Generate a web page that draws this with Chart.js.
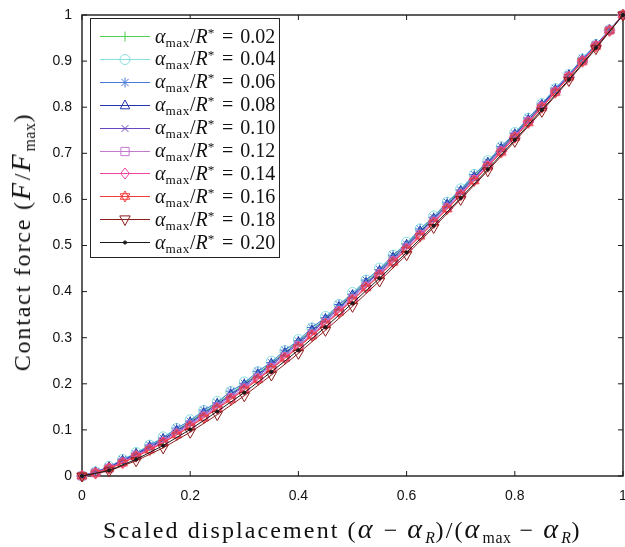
<!DOCTYPE html>
<html>
<head>
<meta charset="utf-8">
<script src="https://cdn.jsdelivr.net/npm/chart.js@4.4.0/dist/chart.umd.min.js"></script>
<style>
  body { margin: 0; background: #fff; }
  #wrap { position: relative; width: 625px; height: 547px; overflow: hidden; }
  #c { position: absolute; left: 0; top: 0; }
  .serif { font-family: "Liberation Serif", "Times New Roman", serif; color: #111; }
  .serif sub, .serif sup { font-size: 66%; line-height: 0; letter-spacing: 0.6px; }
  .serif sub { vertical-align: -0.3em; }
  .serif sup { vertical-align: 0.45em; }
  .m { font-size: 118%; margin-right: 1px; }
  .op { margin: 0 8px; }
  #legend { position: absolute; left: 90px; top: 18px; width: 190px; height: 240px;
            border: 1.5px solid #222; background: #fff; box-sizing: border-box; }
  .row { position: absolute; left: 0; height: 22px; display: flex; align-items: center;
         white-space: nowrap; font-size: 20px; }
  .row canvas { margin-left: 9px; margin-right: 5px; }
  .eq { margin: 0 7px; }
  #xtitle { position: absolute; left: 103px; top: 513px; font-size: 24px; white-space: nowrap; letter-spacing: 2.1px; }
  #ytitle { position: absolute; left: 21px; top: 242px; font-size: 24px; white-space: nowrap; letter-spacing: 1.8px;
            transform: translate(-50%, -50%) rotate(-90deg); }
</style>
</head>
<body>
<div id="wrap">
  <canvas id="c" width="630" height="547"></canvas>
  <div id="legend" class="serif"></div>
  <div id="xtitle" class="serif">Scaled displacement (<i class="m">α</i><span class="op">−</span><i class="m">α</i><sub><i>R</i></sub>)/(<i class="m">α</i><sub>max</sub><span class="op">−</span><i class="m">α</i><sub><i>R</i></sub>)</div>
  <div id="ytitle" class="serif">Contact force (<i class="m">F</i>/<i class="m">F</i><sub>max</sub>)</div>
</div>
<script>
// displacement samples
const xFine = [0, 0.025, 0.05, 0.075, 0.1, 0.125, 0.15, 0.175, 0.2, 0.225, 0.25, 0.275, 0.3, 0.325,
  0.35, 0.375, 0.4, 0.425, 0.45, 0.475, 0.5, 0.525, 0.55, 0.575, 0.6, 0.625, 0.65, 0.675, 0.7,
  0.725, 0.75, 0.775, 0.8, 0.825, 0.85, 0.875, 0.9, 0.925, 0.95, 0.975, 1];
const xCoarse = [0, 0.05, 0.1, 0.15, 0.2, 0.25, 0.3, 0.35, 0.4, 0.45, 0.5, 0.55, 0.6, 0.65, 0.7,
  0.75, 0.8, 0.85, 0.9, 0.95, 1];

const ratios = ['0.02', '0.04', '0.06', '0.08', '0.10', '0.12', '0.14', '0.16', '0.18', '0.20'];

// contact force per alpha_max/R*
const force002 = [0, .008, .020, .034, .049, .064, .081, .099, .118, .138, .158, .178, .200, .222, .245,
  .268, .292, .317, .342, .368, .394, .421, .447, .475, .503, .532, .560, .590, .620, .650, .681, .711,
  .742, .773, .805, .837, .869, .902, .935, .967, 1];
const force004 = [0, .009, .021, .036, .051, .067, .085, .103, .122, .142, .162, .183, .204, .226, .249,
  .272, .296, .321, .346, .372, .398, .425, .451, .479, .507, .536, .564, .594, .623, .654, .684, .714,
  .745, .776, .808, .840, .871, .904, .936, .968, 1];
const force006 = [0, .009, .019, .036, .048, .067, .082, .104, .119, .143, .159, .184, .201, .227, .246,
  .273, .293, .322, .343, .372, .394, .425, .448, .479, .503, .536, .561, .594, .620, .654, .681, .715,
  .743, .777, .807, .841, .871, .906, .936, .968, 1];
const force008 = [0, .008, .019, .033, .048, .063, .080, .098, .116, .136, .156, .176, .198, .220, .243,
  .266, .290, .315, .340, .366, .392, .418, .445, .473, .501, .530, .558, .588, .618, .648, .679, .710,
  .741, .772, .805, .837, .869, .902, .935, .967, 1];
const force010 = [0, .008, .018, .032, .046, .061, .078, .095, .114, .133, .153, .174, .195, .217, .240,
  .263, .287, .312, .337, .363, .389, .416, .442, .470, .498, .527, .556, .585, .615, .646, .677, .707,
  .739, .770, .803, .835, .868, .901, .934, .967, 1];
const force012 = [0, .007, .017, .030, .044, .059, .075, .093, .111, .130, .150, .170, .191, .213, .236,
  .259, .283, .308, .333, .359, .385, .412, .439, .467, .495, .524, .553, .582, .612, .643, .674, .705,
  .737, .769, .801, .834, .867, .900, .934, .967, 1];
const force014 = [0, .006, .017, .029, .043, .058, .073, .091, .108, .128, .147, .168, .188, .211, .233,
  .257, .280, .306, .330, .357, .382, .410, .436, .465, .492, .522, .550, .581, .610, .642, .672, .704,
  .735, .768, .800, .833, .866, .900, .933, .966, 1];
const force016 = [0, .006, .016, .028, .042, .056, .072, .089, .107, .126, .146, .166, .187, .209, .232,
  .255, .279, .304, .329, .355, .381, .408, .435, .463, .491, .520, .549, .579, .609, .640, .671, .702,
  .734, .766, .799, .832, .865, .899, .932, .966, 1];
const force018 = [0, .011, .033, .061, .095, .133, .174, .219, .266, .316, .368, .423, .480, .539, .600,
  .662, .726, .791, .858, .927, 1];
const force020 = [0, .012, .036, .066, .101, .140, .181, .226, .273, .323, .375, .429, .485, .543, .603,
  .665, .729, .794, .860, .929, 1];

const xTicks = [0, 0.2, 0.4, 0.6, 0.8, 1];
const xTickLabels = ['0', '0.2', '0.4', '0.6', '0.8', '1'];
const yTicks = [0, 0.1, 0.2, 0.3, 0.4, 0.5, 0.6, 0.7, 0.8, 0.9, 1];
const yTickLabels = ['0', '0.1', '0.2', '0.3', '0.4', '0.5', '0.6', '0.7', '0.8', '0.9', '1'];

// marker drawing shared by legend icons and the custom hexagram
function drawMarker(ctx, style, x, y, r, color) {
  ctx.save();
  ctx.strokeStyle = color;
  ctx.fillStyle = color;
  ctx.lineWidth = 1;
  ctx.beginPath();
  if (style === 'cross') {
    ctx.moveTo(x - r, y); ctx.lineTo(x + r, y);
    ctx.moveTo(x, y - r); ctx.lineTo(x, y + r);
  } else if (style === 'crossRot') {
    const d = r * 0.75;
    ctx.moveTo(x - d, y - d); ctx.lineTo(x + d, y + d);
    ctx.moveTo(x - d, y + d); ctx.lineTo(x + d, y - d);
  } else if (style === 'star') {
    const d = r * 0.72;
    ctx.moveTo(x - r, y); ctx.lineTo(x + r, y);
    ctx.moveTo(x, y - r); ctx.lineTo(x, y + r);
    ctx.moveTo(x - d, y - d); ctx.lineTo(x + d, y + d);
    ctx.moveTo(x - d, y + d); ctx.lineTo(x + d, y - d);
  } else if (style === 'circle') {
    ctx.arc(x, y, r, 0, Math.PI * 2);
  } else if (style === 'rect') {
    const d = r * 0.75;
    ctx.rect(x - d, y - d, 2 * d, 2 * d);
  } else if (style === 'rectRot') {
    ctx.moveTo(x, y - r); ctx.lineTo(x + r * 0.8, y); ctx.lineTo(x, y + r); ctx.lineTo(x - r * 0.8, y);
    ctx.closePath();
  } else if (style === 'triangle' || style === 'triangleDown') {
    const s = style === 'triangle' ? 1 : -1;
    ctx.moveTo(x, y - s * r); ctx.lineTo(x + r * 0.87, y + s * r * 0.6); ctx.lineTo(x - r * 0.87, y + s * r * 0.6);
    ctx.closePath();
  } else if (style === 'hexagram') {
    for (const s of [1, -1]) {
      ctx.moveTo(x, y - s * r); ctx.lineTo(x + r * 0.87, y + s * r * 0.5); ctx.lineTo(x - r * 0.87, y + s * r * 0.5);
      ctx.closePath();
    }
  } else if (style === 'dot') {
    ctx.arc(x, y, r, 0, Math.PI * 2);
    ctx.fill();
  }
  ctx.stroke();
  ctx.restore();
}

function markerImage(style, r, color) {
  const s = Math.ceil(2 * r + 3);
  const cv = document.createElement('canvas');
  cv.width = s; cv.height = s;
  drawMarker(cv.getContext('2d'), style, s / 2, s / 2, r, color);
  return cv;
}

const colors = ['#4fcf4f', '#86dede', '#4b7bd6', '#2536a8', '#6a45c0', '#c27acc', '#f044a4', '#f03c3c', '#8c1d1d', '#1a1a1a'];
const markers = ['cross', 'circle', 'star', 'triangle', 'crossRot', 'rect', 'rectRot', 'hexagram', 'triangleDown', 'dot'];
const radii = [5, 5, 5, 5.5, 4.5, 5.5, 5.5, 5.5, 6, 1.6];
const seriesY = [force002, force004, force006, force008, force010, force012, force014, force016, force018, force020];
const seriesX = [xFine, xFine, xFine, xFine, xFine, xFine, xFine, xFine, xCoarse, xCoarse];

const datasets = ratios.map((r, i) => {
  let pointStyle = markers[i], rotation = 0, bg = 'rgba(0,0,0,0)';
  if (pointStyle === 'hexagram') pointStyle = markerImage('hexagram', radii[i], colors[i]);
  if (pointStyle === 'triangleDown') { pointStyle = 'triangle'; rotation = 180; }
  if (pointStyle === 'dot') { pointStyle = 'circle'; bg = colors[i]; }
  return {
    label: 'alpha_max/R* = ' + r,
    data: seriesX[i].map((x, k) => ({ x: x, y: seriesY[i][k] })),
    borderColor: colors[i],
    borderWidth: 1,
    pointStyle: pointStyle,
    pointRotation: rotation,
    pointRadius: radii[i],
    pointBorderColor: colors[i],
    pointBackgroundColor: bg,
    pointBorderWidth: 1,
    tension: 0,
    clip: false,
    order: ratios.length - i
  };
});

const framePlugin = {
  id: 'frame',
  beforeDatasetsDraw(chart) {
    const { ctx, chartArea: a, scales } = chart;
    ctx.save();
    ctx.strokeStyle = '#1a1a1a';
    ctx.lineWidth = 1.4;
    ctx.strokeRect(a.left, a.top, a.right - a.left, a.bottom - a.top);
    ctx.lineWidth = 1;
    ctx.beginPath();
    xTicks.forEach(v => {
      const px = scales.x.getPixelForValue(v);
      ctx.moveTo(px, a.bottom); ctx.lineTo(px, a.bottom - 5);
      ctx.moveTo(px, a.top); ctx.lineTo(px, a.top + 5);
    });
    yTicks.forEach(v => {
      const py = scales.y.getPixelForValue(v);
      ctx.moveTo(a.left, py); ctx.lineTo(a.left + 5, py);
      ctx.moveTo(a.right, py); ctx.lineTo(a.right - 5, py);
    });
    ctx.stroke();
    ctx.restore();
  }
};

const tickFont = { family: '"Liberation Sans", Arial, sans-serif', size: 14 };

new Chart(document.getElementById('c'), {
  type: 'line',
  data: { datasets: datasets },
  options: {
    responsive: false,
    animation: false,
    layout: { padding: { top: 15, right: 1, left: 0, bottom: 0 } },
    plugins: { legend: { display: false }, tooltip: { enabled: false } },
    scales: {
      x: {
        type: 'linear', min: 0, max: 1,
        afterBuildTicks: s => { s.ticks = xTicks.map(v => ({ value: v })); },
        afterFit: s => { s.height = 71; s.paddingLeft = 0; s.paddingRight = 0; },
        grid: { display: false, drawTicks: false },
        border: { display: false },
        ticks: { font: tickFont, color: '#111', padding: 12, maxRotation: 0,
                 callback: (v, i) => xTickLabels[i] }
      },
      y: {
        type: 'linear', min: 0, max: 1,
        afterBuildTicks: s => { s.ticks = yTicks.map(v => ({ value: v })); },
        afterFit: s => { s.width = 82; s.paddingTop = 0; s.paddingBottom = 0; },
        grid: { display: false, drawTicks: false },
        border: { display: false },
        ticks: { font: tickFont, color: '#111', padding: 10,
                 callback: (v, i) => yTickLabels[i] }
      }
    }
  },
  plugins: [framePlugin]
});

// legend
const legend = document.getElementById('legend');
ratios.forEach((r, i) => {
  const row = document.createElement('div');
  row.className = 'row';
  row.style.top = (6 + i * 22.9) + 'px';
  const icon = document.createElement('canvas');
  icon.width = 50; icon.height = 18;
  const g = icon.getContext('2d');
  g.strokeStyle = colors[i]; g.lineWidth = 1;
  g.beginPath(); g.moveTo(0, 9.5); g.lineTo(50, 9.5); g.stroke();
  drawMarker(g, markers[i], 25, 9.5, radii[i], colors[i]);
  row.appendChild(icon);
  const txt = document.createElement('span');
  txt.innerHTML = '<i>α</i><sub>max</sub>/<i>R</i><sup>*</sup><span class="eq">=</span>' + r;
  row.appendChild(txt);
  legend.appendChild(row);
});
</script>
</body>
</html>
